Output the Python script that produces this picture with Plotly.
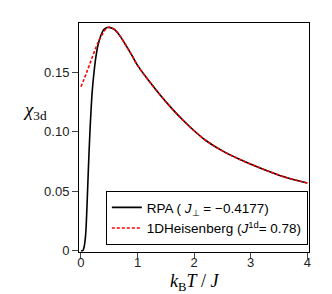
import plotly.graph_objects as go

# RPA data
T_rpa = [0.0, 0.03, 0.05, 0.08, 0.10, 0.12, 0.14, 0.16, 0.18, 0.20, 0.23, 0.26, 0.30, 0.35,
         0.40, 0.45, 0.50, 0.60, 0.70, 0.80, 0.90, 1.0, 1.2, 1.4, 1.6, 1.8, 2.0, 2.2,
         2.5, 2.8, 3.2, 3.6, 4.0]
chi_rpa = [0.0, 0.0, 0.002, 0.012, 0.030, 0.055, 0.080, 0.102, 0.120, 0.135, 0.150, 0.162,
           0.173, 0.181, 0.186, 0.1878, 0.188, 0.186, 0.180, 0.1725, 0.1645, 0.156,
           0.143, 0.131, 0.120, 0.110, 0.101, 0.093, 0.084, 0.077, 0.069, 0.062, 0.057]

# 1D Heisenberg data
T_heis = [0.0, 0.1, 0.2, 0.3, 0.4, 0.45, 0.50, 0.60, 0.70, 0.80, 0.90, 1.0, 1.2, 1.4,
          1.6, 1.8, 2.0, 2.2, 2.5, 2.8, 3.2, 3.6, 4.0]
chi_heis = [0.138, 0.150, 0.163, 0.175, 0.184, 0.187, 0.188, 0.186, 0.180, 0.1725, 0.1645,
            0.156, 0.143, 0.131, 0.120, 0.110, 0.101, 0.093, 0.084, 0.077, 0.069, 0.062, 0.057]

x_ticks = [0, 1, 2, 3, 4]
x_ticklabels = ["0", "1", "2", "3", "4"]
y_ticks = [0, 0.05, 0.10, 0.15]
y_ticklabels = ["0", "0.05", "0.10", "0.15"]

fig = go.Figure()
fig.add_trace(go.Scatter(
    x=T_rpa, y=chi_rpa, mode="lines", line=dict(color="black", width=1.6, shape="spline"),
    name="RPA ( <i>J</i><sub>⊥</sub> = −0.4177)"))
fig.add_trace(go.Scatter(
    x=T_heis, y=chi_heis, mode="lines",
    line=dict(color="red", width=1.6, dash="3px,2px", shape="spline"),
    name="1DHeisenberg (<i>J</i><sup>1d</sup>= 0.78)"))

axis_common = dict(showline=True, linecolor="black", linewidth=1, mirror=True,
                   ticks="outside", ticklen=6, tickcolor="#444", showgrid=False,
                   zeroline=False,
                   tickfont=dict(family="Liberation Sans, Arial", size=13, color="#222"))

fig.update_layout(
    width=332, height=294,
    margin=dict(l=71, r=31, t=15, b=50),
    plot_bgcolor="white", paper_bgcolor="white",
    showlegend=True,
    legend=dict(x=0.995, y=0.03, xanchor="right", yanchor="bottom",
                bordercolor="black", borderwidth=1, bgcolor="white",
                font=dict(family="Liberation Sans, Arial", size=13.5, color="black"),
                tracegroupgap=0, itemwidth=30),
    xaxis=dict(range=[-0.035, 4.03], tickvals=x_ticks, ticktext=x_ticklabels,
               ticklabelstandoff=-8, **axis_common),
    yaxis=dict(range=[-0.0011, 0.1917], tickvals=y_ticks, ticktext=y_ticklabels, **axis_common),
)

fig.add_annotation(text="<i>χ</i><sub>3d</sub>", xref="paper", yref="paper",
                   x=-0.19, y=0.615, xanchor="center", yanchor="middle", showarrow=False,
                   font=dict(family="Liberation Serif, Times New Roman", size=19, color="black"))
fig.add_annotation(text="<i>k</i><sub>B</sub><i>T</i> / <i>J</i>", xref="paper", yref="paper",
                   x=0.5, y=-0.135, xanchor="center", yanchor="middle", showarrow=False,
                   font=dict(family="Liberation Serif, Times New Roman", size=18, color="black"))

fig.write_html("out.html")
